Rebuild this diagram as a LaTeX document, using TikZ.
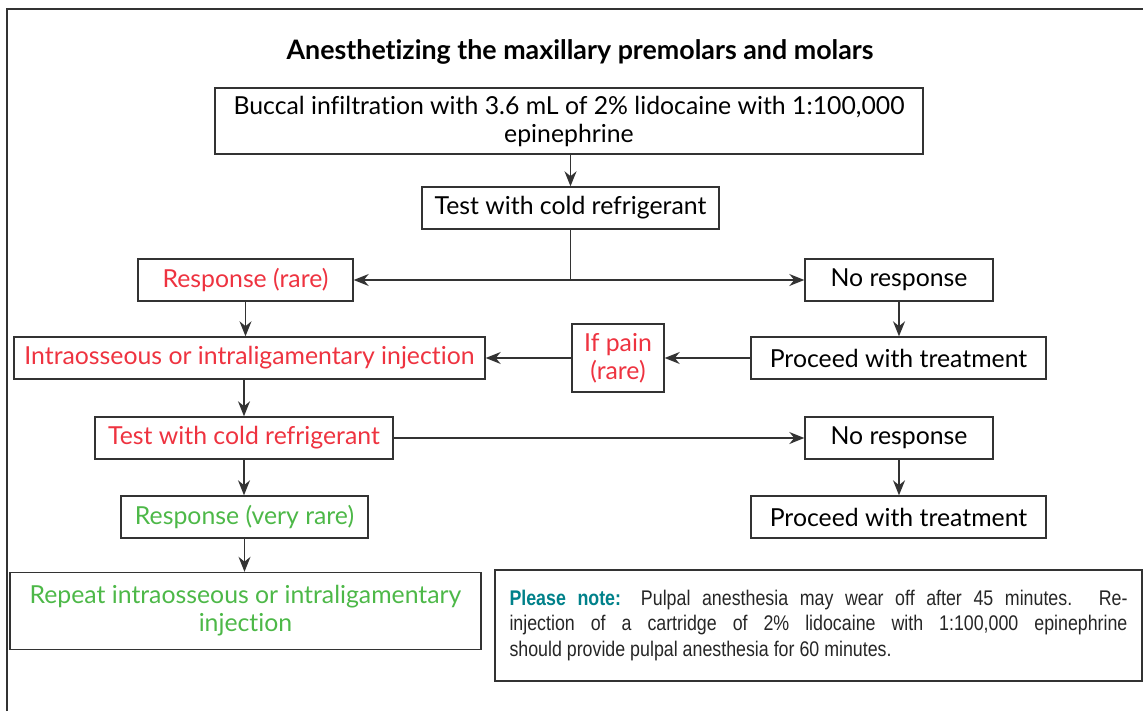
\documentclass[tikz,border=0pt]{standalone}
\usepackage{fontspec}
\setmainfont{Lato}[Ligatures={NoCommon}]
\newfontfamily\notefont[FakeStretch=0.84]{Liberation Sans}
\usetikzlibrary{arrows.meta,positioning,calc}
\definecolor{painred}{HTML}{EE3340}
\definecolor{okgreen}{HTML}{4DB848}
\definecolor{noteteal}{HTML}{00818A}
\definecolor{framegray}{HTML}{333333}
\tikzset{
  stepbox/.style={draw=framegray, line width=0.7pt, minimum height=21pt,
    inner sep=1.5pt, align=center, font=\fontsize{12.4}{14}\selectfont, text=black},
  redbox/.style={stepbox, text=painred},
  greenbox/.style={stepbox, text=okgreen},
  flow/.style={-{Stealth[length=7.5pt,width=6pt]}, line width=0.6pt, draw=framegray},
  link/.style={line width=0.6pt, draw=framegray},
  notebox/.style={draw=framegray, line width=0.7pt, minimum width=323.5pt,
    minimum height=55.5pt, inner sep=0pt, text width=309pt, align=justify,
    font=\notefont\fontsize{10.6}{12.8}\selectfont, text=black!85},
  caphead/.style={font=\bfseries\fontsize{13.4}{15}\selectfont, text=black},
}

\begin{document}
\begin{tikzpicture}[x=0.5pt,y=-0.5pt]
  \useasboundingbox (0,0) rectangle (1143,711);
  % frame (cut at right and bottom)
  \draw[line width=0.75pt, draw=framegray] (7,711) -- (7,9) -- (1143,9);
  \node[caphead] (title) at (580,52) {Anesthetizing the maxillary premolars and molars};

  % first round
  \node[stepbox, minimum width=354pt, minimum height=33pt] (buccal) at (569,121)
    {Buccal infiltration with 3.6 mL of 2\% lidocaine with 1:100,000\\epinephrine};
  \node[stepbox, minimum width=148.5pt] (test1) at (570.5,208) {Test with cold refrigerant};
  \node[redbox, minimum width=107.5pt] (resp) at (245.5,280) {Response (rare)};
  \node[stepbox, minimum width=94pt] (nores1) at (899,280) {No response};
  \node[stepbox, minimum width=147.5pt] (proceed1) at (898.5,358) {Proceed with treatment};
  \node[redbox, minimum width=46pt, minimum height=34pt, inner sep=1pt] (ifpain) at (618,358) {If pain\\(rare)};
  \node[redbox, minimum width=235.5pt] (intra) at (249.5,358) {Intraosseous or intraligamentary injection};

  % second round
  \node[redbox, minimum width=149pt] (test2) at (244,438) {Test with cold refrigerant};
  \node[stepbox, minimum width=94pt] (nores2) at (899,438) {No response};
  \node[stepbox, minimum width=147.5pt] (proceed2) at (898.5,517) {Proceed with treatment};
  \node[greenbox, minimum width=123.5pt] (vrare) at (244.5,517) {Response (very rare)};
  \node[greenbox, minimum width=235.5pt, minimum height=38.5pt] (repeat) at (245.5,611)
    {Repeat intraosseous or intraligamentary\\injection};

  \node[notebox] (note) at (818.5,625.5)
    {{\bfseries\color{noteteal}Please note:} Pulpal anesthesia may wear off after 45 minutes. Re-\linebreak
     injection of a cartridge of 2\% lidocaine with 1:100,000 epinephrine\linebreak
     should provide pulpal anesthesia for 60 minutes.};

  % connectors
  \draw[flow] (buccal.south -| test1.north) -- (test1.north);
  \coordinate (split) at (test1.south |- resp.east);
  \draw[link] (test1.south) -- (split);
  \draw[flow] (split) -- (resp.east);
  \draw[flow] (split) -- (nores1.west);
  \draw[flow] (nores1.south) -- (nores1.south |- proceed1.north);
  \draw[flow] (proceed1.west) -- (ifpain.east);
  \draw[flow] (ifpain.west) -- (intra.east);
  \draw[flow] (resp.south) -- (resp.south |- intra.north);
  \draw[flow] (test2.north |- intra.south) -- (test2.north);
  \draw[flow] (test2.east) -- (nores2.west);
  \draw[flow] (nores2.south) -- (nores2.south |- proceed2.north);
  \draw[flow] (test2.south) -- (test2.south |- vrare.north);
  \draw[flow] (vrare.south) -- (vrare.south |- repeat.north);
\end{tikzpicture}
\end{document}
